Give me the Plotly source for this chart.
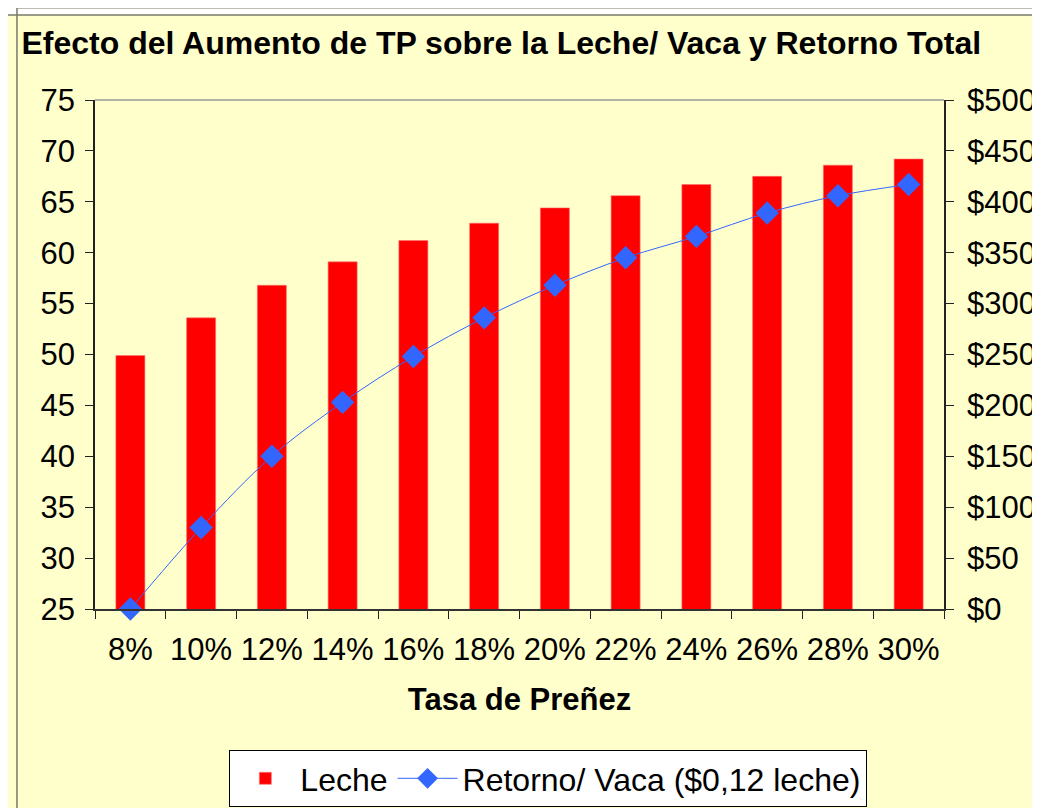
import plotly.graph_objects as go

# ---- data ----
categories = ["8%", "10%", "12%", "14%", "16%", "18%", "20%", "22%", "24%", "26%", "28%", "30%"]
leche = [49.9, 53.6, 56.8, 59.1, 61.2, 62.9, 64.4, 65.6, 66.7, 67.5, 68.6, 69.2]
retorno = [0, 80, 150, 203, 248, 286, 318, 345, 366, 389, 406, 417]
left_ticks = [25, 30, 35, 40, 45, 50, 55, 60, 65, 70, 75]
right_ticks = [0, 50, 100, 150, 200, 250, 300, 350, 400, 450, 500]
right_labels = ["$" + str(v) for v in right_ticks]

title_text = "Efecto del Aumento de TP sobre la Leche/ Vaca y Retorno Total"
xaxis_title = "Tasa de Preñez"
bar_name = "Leche"
line_name = "Retorno/ Vaca ($0,12 leche)"

FONT = "Liberation Sans, Arial, sans-serif"
YELLOW = "#FFFFCC"
BLUE = "#3366FF"
TICK = 31

fig = go.Figure()
fig.add_trace(go.Bar(
    x=categories, y=leche, name=bar_name,
    marker=dict(color="#FF0000", line=dict(color="#FF7070", width=0.6)),
    yaxis="y",
))
fig.add_trace(go.Scatter(
    x=categories, y=retorno, name=line_name, yaxis="y2",
    mode="lines+markers",
    line=dict(color=BLUE, width=1, shape="spline", smoothing=1),
    marker=dict(symbol="diamond", size=18, color=BLUE),
    cliponaxis=False,
))

n = len(categories)
boundaries = [i - 0.5 for i in range(n + 1)]

fig.update_layout(
    width=1032, height=800,
    margin=dict(l=87, r=96, t=92, b=199, autoexpand=False),
    paper_bgcolor="white",
    plot_bgcolor=YELLOW,
    font=dict(family=FONT, size=TICK, color="black"),
    bargap=0.59,
    showlegend=True,
    title=dict(
        text="<b>" + title_text + "</b>",
        x=0.478, xanchor="center", xref="container",
        y=0.956, yanchor="middle", yref="container",
        font=dict(family=FONT, size=32, color="black"),
    ),
    xaxis=dict(
        type="category", range=[-0.5, n - 0.5], tickson="boundaries",
        ticks="outside", ticklen=8, tickcolor="#222", tickwidth=1,
        showline=True, linecolor="#333", linewidth=1.5,
        showgrid=False, zeroline=False,
        tickfont=dict(size=TICK), tickangle=0,
        ticklabelstandoff=12,
        title=dict(text="<b>" + xaxis_title + "</b>", font=dict(size=31), standoff=22),
    ),
    xaxis2=dict(
        type="linear", range=[-0.5, n - 0.5], overlaying="x", anchor="y", side="bottom",
        tickmode="array", tickvals=boundaries, ticks="inside", ticklen=8,
        tickcolor="#222", tickwidth=1, showticklabels=False,
        showline=False, showgrid=False, zeroline=False,
    ),
    yaxis=dict(
        range=[25, 75], tickmode="array", tickvals=left_ticks,
        ticks="outside", ticklen=8, tickcolor="#222", tickwidth=1,
        showline=True, linecolor="#222", linewidth=1.5,
        showgrid=False, zeroline=False, tickfont=dict(size=TICK),
        ticklabelstandoff=4,
    ),
    yaxis2=dict(
        range=[0, 500], tickmode="array", tickvals=right_ticks, ticktext=right_labels,
        overlaying="y", side="right", anchor="x",
        ticks="outside", ticklen=8, tickcolor="#222", tickwidth=1,
        showline=True, linecolor="#222", linewidth=1.5,
        showgrid=False, zeroline=False, tickfont=dict(size=TICK),
        ticklabelstandoff=7,
    ),
    yaxis3=dict(
        range=[25, 75], tickmode="array", tickvals=left_ticks, overlaying="y", side="left",
        anchor="x", ticks="inside", ticklen=8, tickcolor="#222", tickwidth=1,
        showticklabels=False, showline=False, showgrid=False, zeroline=False,
    ),
    yaxis4=dict(
        range=[0, 500], tickmode="array", tickvals=right_ticks, overlaying="y", side="right",
        anchor="x", ticks="inside", ticklen=8, tickcolor="#222", tickwidth=1,
        showticklabels=False, showline=False, showgrid=False, zeroline=False,
    ),
    legend=dict(
        orientation="h", x=0.534, xanchor="center", y=-0.277, yanchor="top",
        bgcolor="white", bordercolor="black", borderwidth=1,
        font=dict(size=32), traceorder="normal",
        itemwidth=60,
    ),
    shapes=[
        # chart-area frame (filled) and its offset outline
        dict(type="rect", xref="paper", yref="paper", x0=-0.1037, x1=1.1095, y0=-0.45, y1=1.167,
             fillcolor=YELLOW, line=dict(color="#7a7a6a", width=1.5), layer="below"),
        dict(type="rect", xref="paper", yref="paper", x0=-0.0919, x1=1.2, y0=-0.45, y1=1.181,
             fillcolor="rgba(0,0,0,0)", line=dict(color="#7a7a6a", width=1.5), layer="below"),
        # top border of plot area
        dict(type="line", xref="x domain", yref="y domain", x0=0, x1=1, y0=1, y1=1,
             line=dict(color="#999999", width=1.5)),
    ],
)

fig.write_html("out.html")
